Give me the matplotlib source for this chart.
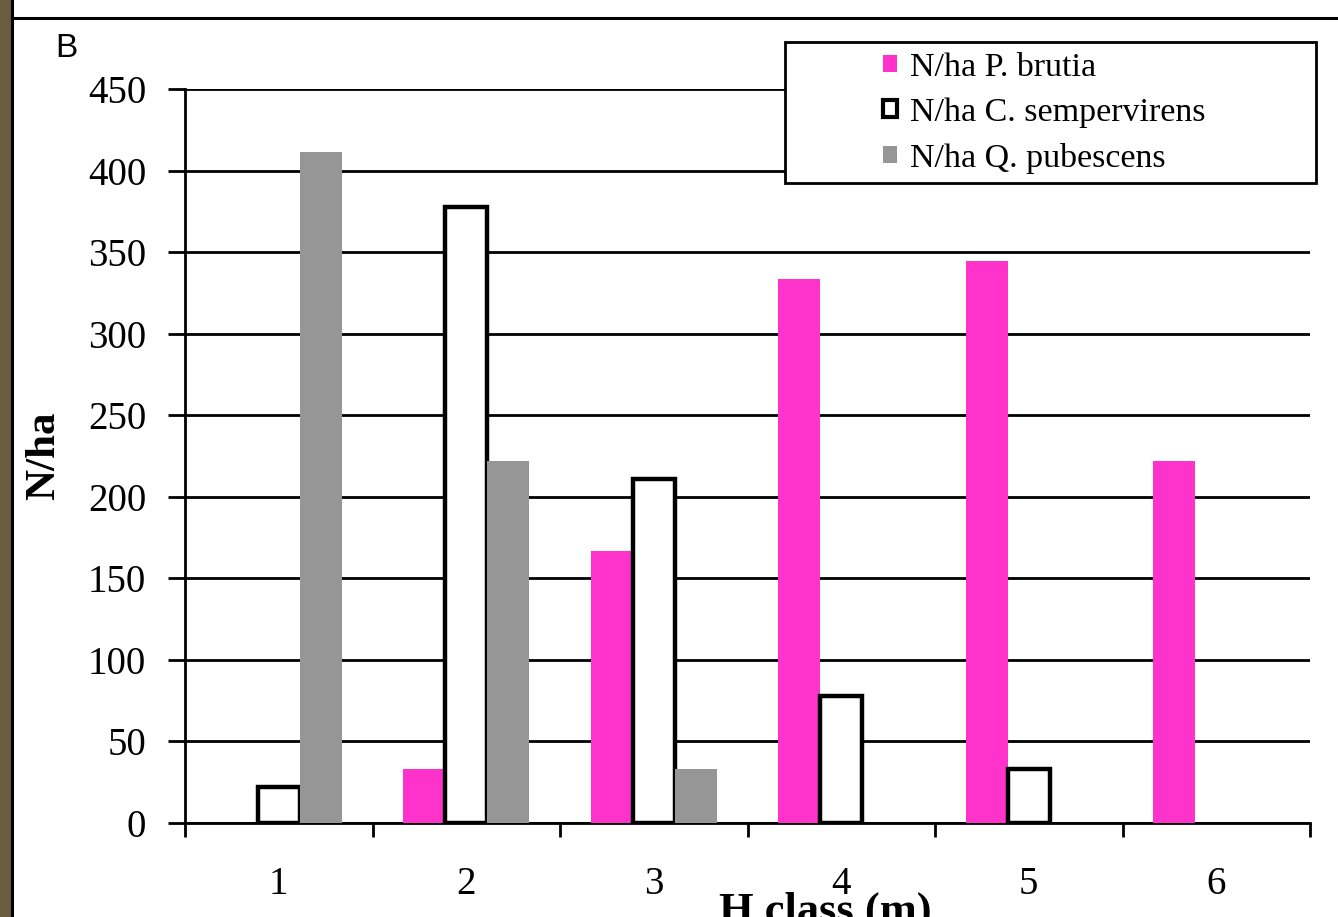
import matplotlib.pyplot as plt
import numpy as np
from matplotlib.patches import Rectangle

# height classes and stem densities (N/ha)
h_classes = ['1', '2', '3', '4', '5', '6']
n_brutia = [0, 33.3, 166.7, 333.3, 344.4, 222.2]
n_semper = [22.2, 377.8, 211.1, 77.8, 33.3, 0]
n_pubesc = [411.1, 222.2, 33.3, 0, 0, 0]
y_ticks = [0, 50, 100, 150, 200, 250, 300, 350, 400, 450]

pink = '#ff33cc'
grey = '#969696'

plt.rcParams['font.family'] = ['Liberation Serif', 'DejaVu Serif']

W, H = 1338, 917
fig = plt.figure(figsize=(W / 100, H / 100), dpi=100)
fig.patch.set_facecolor('white')

# bark strip on the left edge of the slide and the frame lines
fig.patches.append(Rectangle((0, 0), 11 / W, 1, transform=fig.transFigure,
                             facecolor='#6b5b40', edgecolor='none', zorder=0))
fig.add_artist(plt.Line2D([12 / W, 12 / W], [0, 1], transform=fig.transFigure,
                          color='black', lw=2.2))
fig.add_artist(plt.Line2D([12 / W, 1], [1 - 18 / H, 1 - 18 / H],
                          transform=fig.transFigure, color='black', lw=2.2))

ax = fig.add_axes([185 / W, 1 - 823 / H, (1310 - 185) / W, (823 - 89) / H])

x = np.arange(1, len(h_classes) + 1)
w = 0.224

b1 = ax.bar(x - w, n_brutia, width=w, color=pink, label='N/ha P. brutia', zorder=3)
# empty classes get no outline
semper_lw = [3.2 if v > 0 else 0 for v in n_semper]
b2 = ax.bar(x, n_semper, width=w, color='white', edgecolor='black', linewidth=semper_lw,
            label='N/ha C. sempervirens', zorder=3)
b3 = ax.bar(x + w, n_pubesc, width=w, color=grey, label='N/ha Q. pubescens', zorder=3)

ax.set_xlim(0.5, 6.5)
ax.set_ylim(0, 450)
ax.set_yticks(y_ticks)
ax.yaxis.grid(True, color='black', lw=2, zorder=1)
ax.set_axisbelow(True)

# ticks on the category boundaries, labels in the middle
ax.set_xticks(np.arange(0.5, 7.0, 1.0))
ax.set_xticklabels([])
ax.set_xticks(x, minor=True)
ax.set_xticklabels(h_classes, minor=True)
ax.tick_params(axis='x', which='major', direction='out', length=10, width=2)
ax.tick_params(axis='x', which='minor', length=0, pad=31, labelsize=28)
ax.tick_params(axis='y', direction='out', length=12, width=2, labelsize=28, pad=16)

for s in ['top', 'right']:
    ax.spines[s].set_visible(False)
ax.spines['left'].set_linewidth(2)
ax.spines['bottom'].set_linewidth(2)

ax.set_ylabel('N/ha', fontsize=31, fontweight='bold')
ax.yaxis.set_label_coords((63 - 185) / 1125, 0.5)
ax.set_xlabel('H class (m)', fontsize=32, fontweight='bold', va='top')
ax.xaxis.set_label_coords((825 - 185) / 1125, -(892 - 823) / 734)

# legend box with the wide empty margin on the left
fig.patches.append(Rectangle((785 / W, 1 - 183 / H), (1316 - 785) / W, (183 - 42) / H,
                             transform=fig.transFigure, facecolor='white',
                             edgecolor='black', lw=2, zorder=4))
leg = fig.legend(handles=[b1, b2, b3], loc='upper left',
                 bbox_to_anchor=(883 / W, 1 - 52 / H), fontsize=24.5,
                 frameon=False, borderpad=0, labelspacing=0.44,
                 handlelength=0.4, handleheight=0.4, handletextpad=0.4,
                 borderaxespad=0)
leg.set_zorder(5)
leg.legend_handles[1].set_linewidth(3)

fig.text(55 / W, 1 - 57 / H, 'B', fontsize=24, family='Liberation Sans',
         ha='left', va='baseline')

fig.savefig('out.png', dpi=100)
